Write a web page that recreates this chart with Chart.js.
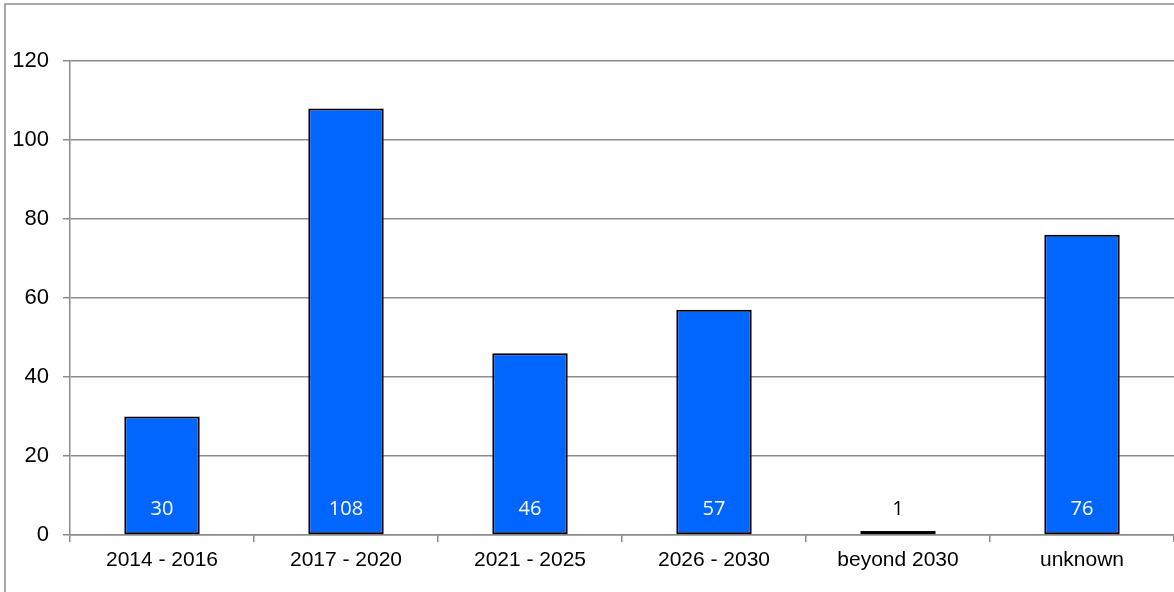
<!DOCTYPE html>
<html>
<head>
<meta charset="utf-8">
<script src="https://cdn.jsdelivr.net/npm/chart.js@4.4.1/dist/chart.umd.min.js"></script>
<style>
  html, body { margin: 0; padding: 0; background: #fff; }
  #wrap { position: relative; width: 1174px; height: 592px; }
</style>
</head>
<body>
<div id="wrap"><canvas id="timeline"></canvas></div>
<script>
const periods = ['2014 - 2016', '2017 - 2020', '2021 - 2025', '2026 - 2030', 'beyond 2030', 'unknown'];
const counts = [30, 108, 46, 57, 1, 76];
const yTicks = [0, 20, 40, 60, 80, 100, 120];

const gridGray = '#8c8c8c';

// frame line along the left and top edges of the figure
const framePlugin = {
    id: 'frame',
    beforeDraw(chart) {
        const ctx = chart.ctx;
        ctx.save();
        ctx.strokeStyle = gridGray;
        ctx.lineWidth = 1.5;
        ctx.beginPath();
        ctx.moveTo(5, chart.height);
        ctx.lineTo(5, 4);
        ctx.lineTo(chart.width, 4);
        ctx.stroke();
        ctx.restore();
    }
};

// value labels near the foot of each bar
const valueLabels = {
    id: 'valueLabels',
    afterDatasetsDraw(chart) {
        const ctx = chart.ctx;
        const meta = chart.getDatasetMeta(0);
        const base = chart.scales.y.getPixelForValue(0);
        const labelY = base - 26;
        ctx.save();
        ctx.font = '20px "Open Sans"';
        ctx.textAlign = 'center';
        ctx.textBaseline = 'middle';
        meta.data.forEach((bar, i) => {
            ctx.fillStyle = bar.y < labelY - 14 ? '#ffffff' : '#000000';
            ctx.fillText(String(counts[i]), bar.x, labelY);
        });
        ctx.restore();
    }
};

const ctx = document.getElementById('timeline').getContext('2d');
const chart = new Chart(ctx, {
    type: 'bar',
    data: {
        labels: periods,
        datasets: [{
            data: counts,
            backgroundColor: '#0066ff',
            borderColor: '#000000',
            borderWidth: 2,
            borderSkipped: false,
            categoryPercentage: 1,
            barPercentage: 0.41
        }]
    },
    options: {
        responsive: true,
        maintainAspectRatio: false,
        animation: false,
        layout: { padding: { left: 5, top: 61, right: 0, bottom: 0 } },
        plugins: {
            legend: { display: false },
            tooltip: { enabled: false }
        },
        scales: {
            x: {
                grid: {
                    offset: true,
                    drawOnChartArea: false,
                    color: gridGray,
                    lineWidth: 1.5,
                    tickLength: 7
                },
                border: { color: gridGray, width: 1.5 },
                ticks: {
                    color: '#000',
                    font: { family: '"Liberation Sans", Arial', size: 21 },
                    padding: 6,
                    maxRotation: 0,
                    autoSkip: false
                },
                afterFit(scale) { scale.height = 57; }
            },
            y: {
                min: 0,
                max: 120,
                afterBuildTicks(scale) { scale.ticks = yTicks.map(v => ({ value: v })); },
                grid: { color: gridGray, lineWidth: 1.5, tickLength: 7 },
                border: { color: gridGray, width: 1.5 },
                ticks: {
                    color: '#000',
                    font: { family: '"Liberation Sans", Arial', size: 22 },
                    padding: 14
                },
                afterFit(scale) { scale.width = 65; }
            }
        }
    },
    plugins: [framePlugin, valueLabels]
});
</script>
</body>
</html>
